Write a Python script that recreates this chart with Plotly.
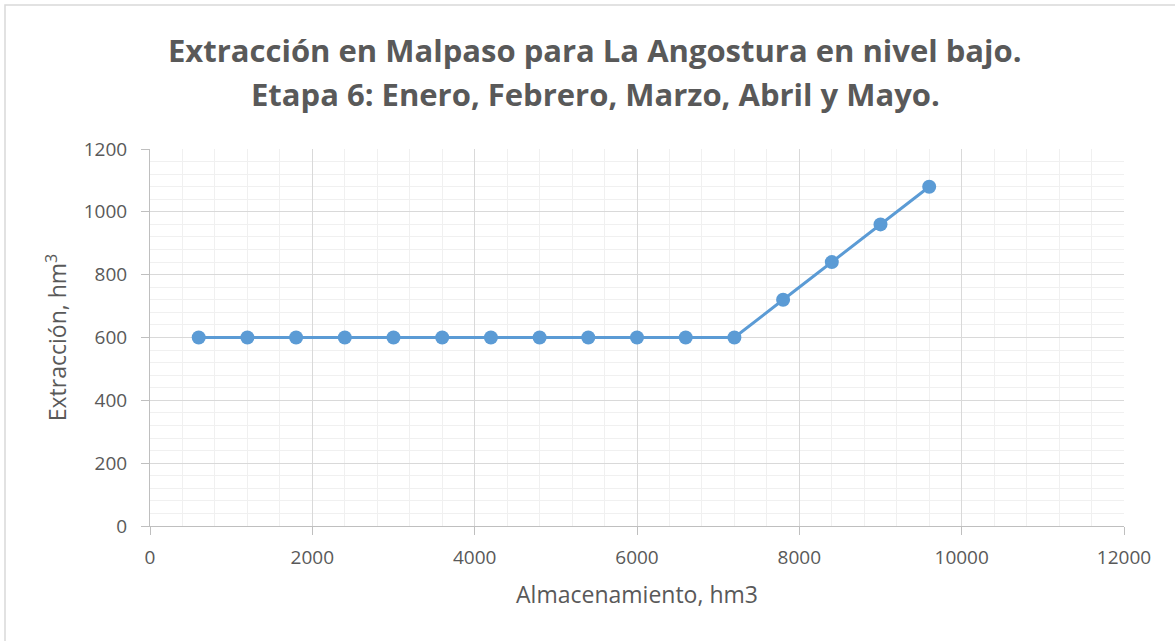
import plotly.graph_objects as go

# Storage (hm3) and release (hm3) for Malpaso, stage 6
almacenamiento = [600, 1200, 1800, 2400, 3000, 3600, 4200, 4800, 5400, 6000,
                  6600, 7200, 7800, 8400, 9000, 9600]
extraccion = [600, 600, 600, 600, 600, 600, 600, 600, 600, 600,
              600, 600, 720, 840, 960, 1080]

x_ticks = [0, 2000, 4000, 6000, 8000, 10000, 12000]
y_ticks = [0, 200, 400, 600, 800, 1000, 1200]

title_lines = [
    "Extracción en Malpaso para La Angostura en nivel bajo.",
    "Etapa 6: Enero, Febrero, Marzo, Abril y Mayo.",
]

FONT = "Open Sans"
TXT = "#595959"
BLUE = "#5B9BD5"

# plot-area geometry in pixels (used to place the frame and title lines)
L, R, T, B = 150, 51, 149, 115
W, H = 1175, 641
PW, PH = W - L - R, H - T - B


def px_to_paper_y(py):
    return (H - B - py) / PH


def px_to_paper_x(px):
    return (px - L) / PW


fig = go.Figure()
fig.add_trace(go.Scatter(
    x=almacenamiento, y=extraccion, mode="lines+markers",
    line=dict(color=BLUE, width=3),
    marker=dict(color=BLUE, size=14),
    showlegend=False, hoverinfo="x+y",
))

axis_common = dict(
    showline=True, linecolor="#BFBFBF", linewidth=1,
    gridcolor="#D9D9D9", gridwidth=1,
    ticks="outside", ticklen=8, tickcolor="#BFBFBF",
    tickfont=dict(family=FONT, size=19, color=TXT),
    zeroline=False,
    minor=dict(showgrid=True, gridcolor="#F0F0F0", gridwidth=1),
)

fig.update_xaxes(
    range=[0, 12000], tickvals=x_ticks, ticktext=[str(v) for v in x_ticks],
    minor_dtick=400, ticklabelstandoff=6,
    title=dict(text="Almacenamiento, hm3", font=dict(family=FONT, size=23, color=TXT), standoff=18),
    **axis_common,
)
fig.update_yaxes(
    range=[0, 1200], tickvals=y_ticks, ticktext=[str(v) for v in y_ticks],
    minor_dtick=40, ticklabelstandoff=10,
    title=dict(text="Extracción, hm<sup>3</sup>", font=dict(family=FONT, size=23, color=TXT), standoff=10),
    **axis_common,
)

annotations = [
    dict(text=f"<b>{line}</b>", xref="paper", yref="paper",
         x=px_to_paper_x(595), y=px_to_paper_y(py), xanchor="center", yanchor="middle",
         showarrow=False, font=dict(family=FONT, size=31, color=TXT))
    for line, py in zip(title_lines, [50, 94])
]

fig.update_layout(
    width=W, height=H,
    margin=dict(l=L, r=R, t=T, b=B),
    paper_bgcolor="white", plot_bgcolor="white",
    annotations=annotations,
    shapes=[dict(
        type="rect", xref="paper", yref="paper",
        x0=px_to_paper_x(5), x1=px_to_paper_x(1185),
        y0=px_to_paper_y(655), y1=px_to_paper_y(5),
        line=dict(color="#D9D9D9", width=1.5), fillcolor="rgba(0,0,0,0)", layer="below",
    )],
)

fig.write_html("out.html")
